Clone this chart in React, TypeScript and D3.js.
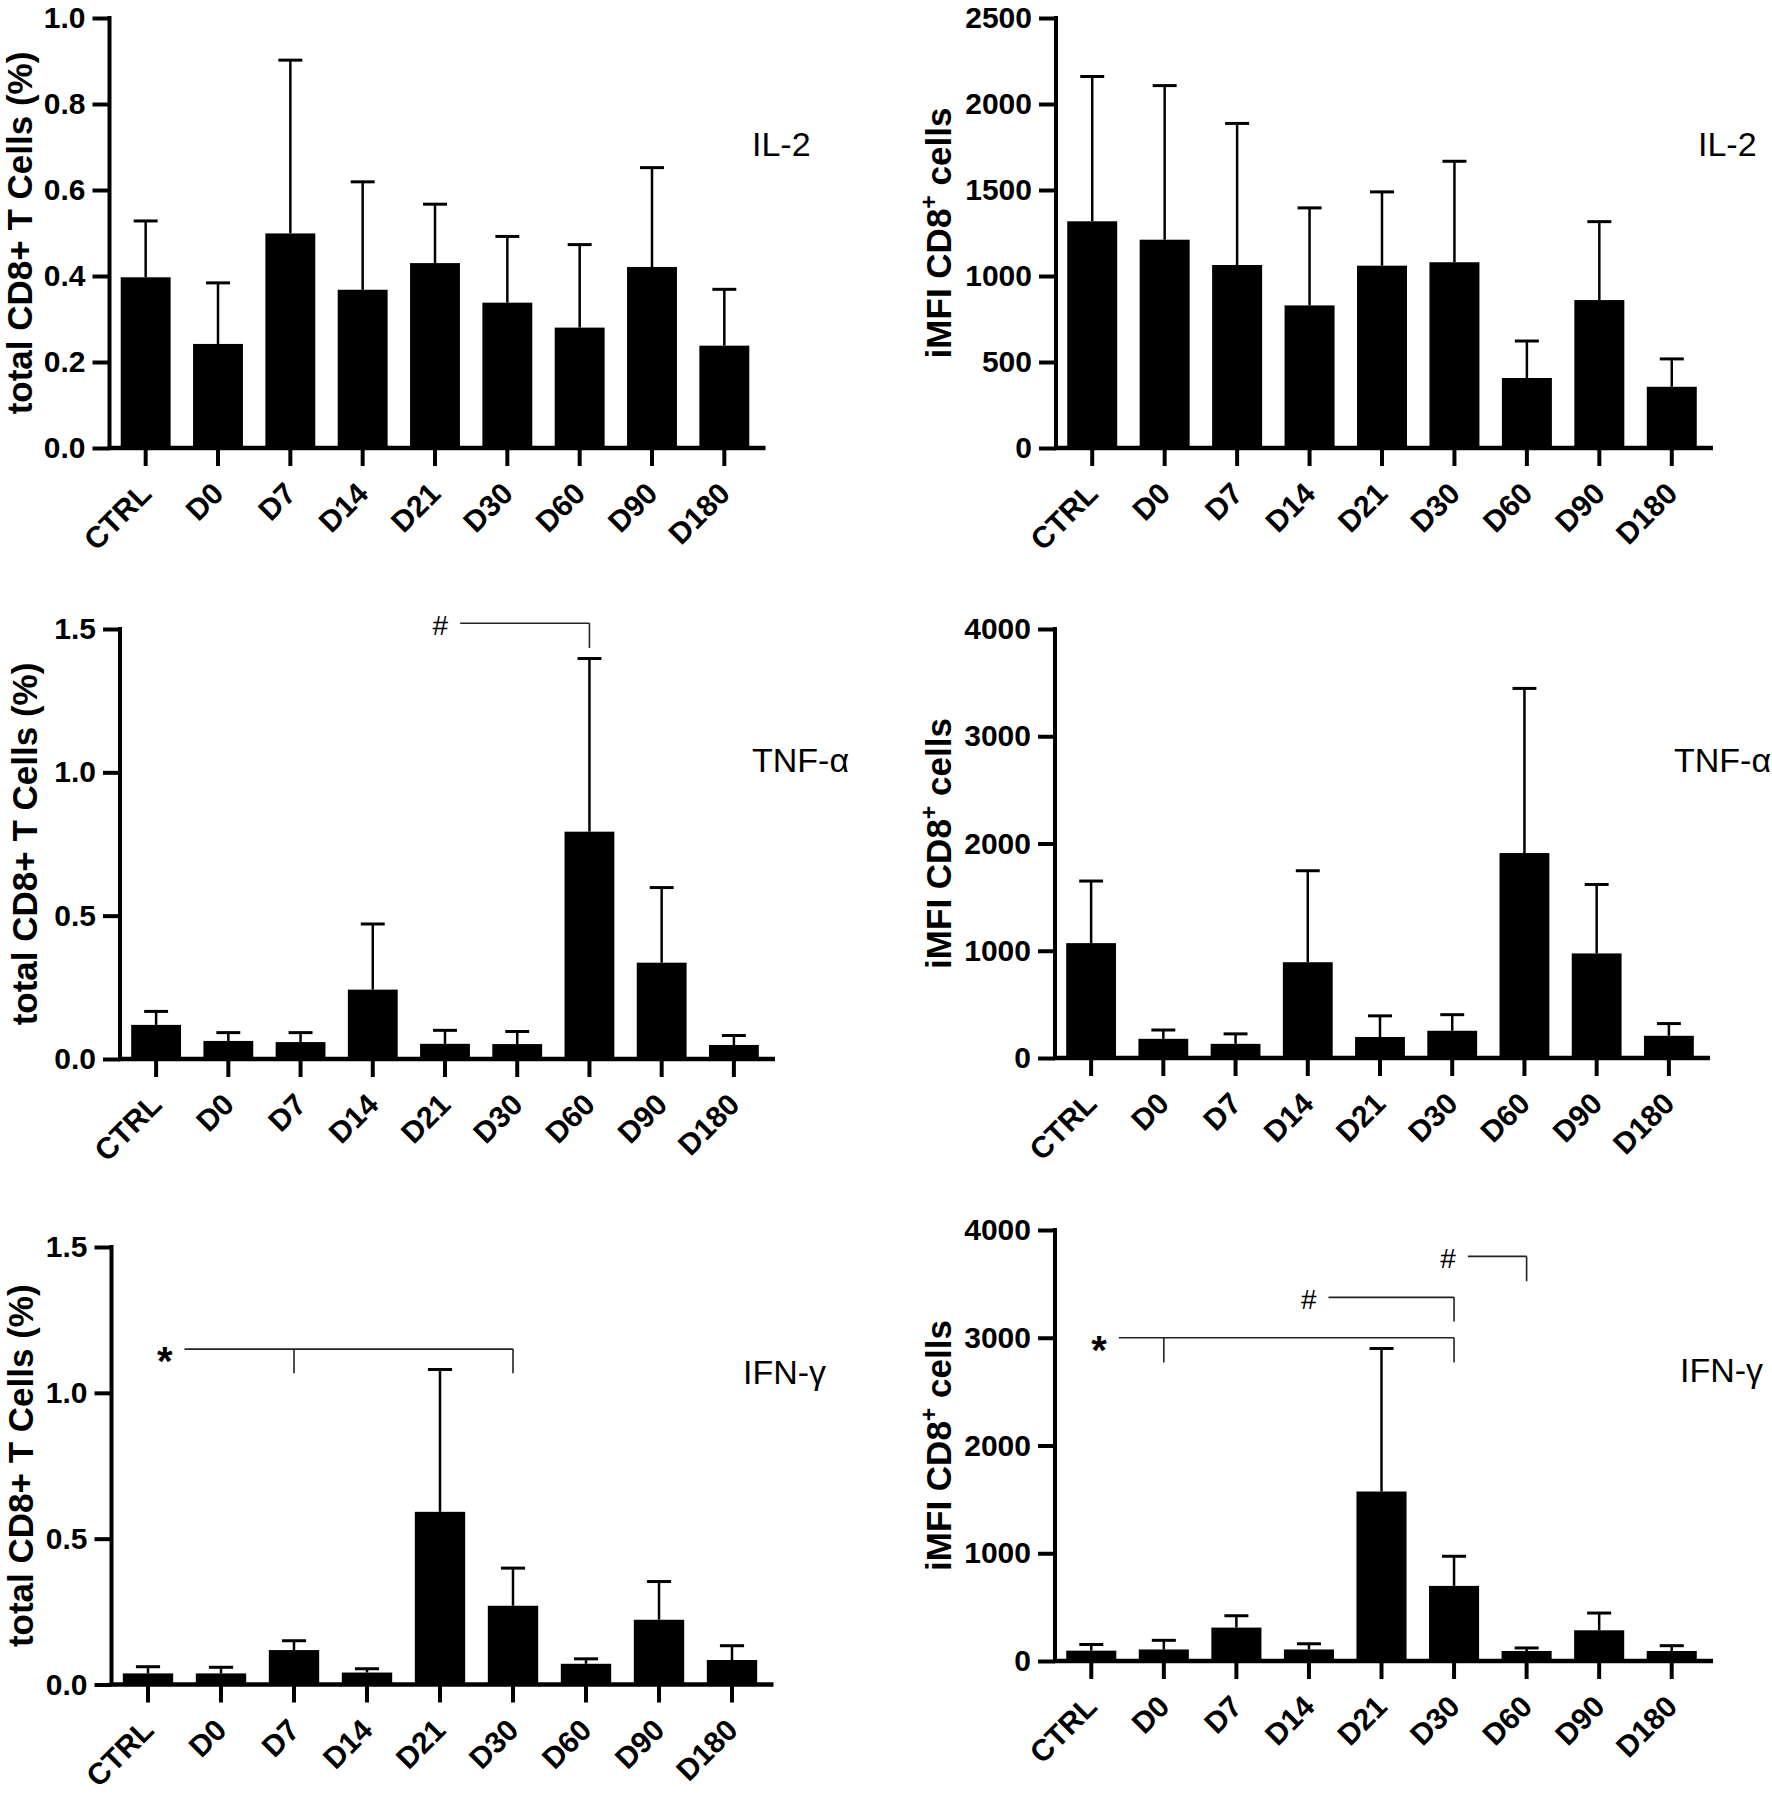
import React, { useEffect, useRef } from 'react';
import * as d3 from 'd3';

const categories = ['CTRL', 'D0', 'D7', 'D14', 'D21', 'D30', 'D60', 'D90', 'D180'];

// IL-2
const il2Pct = [0.397, 0.242, 0.499, 0.368, 0.43, 0.338, 0.28, 0.421, 0.238];
const il2PctSd = [0.131, 0.142, 0.403, 0.251, 0.137, 0.154, 0.193, 0.231, 0.131];
const il2Mfi = [1318, 1211, 1064, 829, 1060, 1080, 407, 860, 356];
const il2MfiSd = [842, 896, 823, 567, 429, 587, 215, 456, 162];

// TNF-alpha
const tnfPct = [0.119, 0.063, 0.059, 0.242, 0.053, 0.052, 0.793, 0.336, 0.049];
const tnfPctSd = [0.047, 0.029, 0.033, 0.229, 0.047, 0.044, 0.604, 0.262, 0.033];
const tnfMfi = [1071, 179, 132, 893, 196, 254, 1911, 975, 207];
const tnfMfiSd = [579, 82, 93, 853, 197, 150, 1535, 643, 114];

// IFN-gamma
const ifnPct = [0.038, 0.038, 0.118, 0.041, 0.592, 0.27, 0.071, 0.222, 0.084];
const ifnPctSd = [0.023, 0.021, 0.032, 0.013, 0.488, 0.129, 0.017, 0.131, 0.049];
const ifnMfi = [96, 107, 310, 107, 1573, 697, 93, 285, 93];
const ifnMfiSd = [57, 85, 110, 53, 1327, 275, 28, 160, 49];

// tick values
const il2PctTicks = [0, 0.2, 0.4, 0.6, 0.8, 1.0];
const il2MfiTicks = [0, 500, 1000, 1500, 2000, 2500];
const pctTicks = [0, 0.5, 1.0, 1.5];
const mfiTicks = [0, 1000, 2000, 3000, 4000];

// significance brackets: start is a position on the category axis (index units)
type Bracket = { label: string; start: number; line: number; drop: number; ends: string[] };
const tnfPctBrackets: Bracket[] = [
  { label: '#', start: 4.21, line: 1.52, drop: 1.434, ends: ['D60'] },
];
const ifnPctBrackets: Bracket[] = [
  { label: '*', start: 0.5, line: 1.15, drop: 1.067, ends: ['D7', 'D30'] },
];
const ifnMfiBrackets: Bracket[] = [
  { label: '*', start: 0.38, line: 3000, drop: 2770, ends: ['D0', 'D30'] },
  { label: '#', start: 3.27, line: 3375, drop: 3150, ends: ['D30'] },
  { label: '#', start: 5.19, line: 3755, drop: 3525, ends: ['D60'] },
];

const FONT = '"Liberation Sans", Arial, Helvetica, sans-serif';

type Panel = {
  values: number[];
  sd: number[];
  ticks: number[];
  fmt: string;
  kind: 'pct' | 'mfi';
  tag: string;
  left: number;
  right: number;
  top: number;
  bottom: number;
  titleX: number;
  tagX: number;
  tagY: number;
  brackets: Bracket[];
};

const panels: Panel[] = [
  { values: il2Pct, sd: il2PctSd, ticks: il2PctTicks, fmt: '.1f', kind: 'pct', tag: 'IL-2',
    left: 109.5, right: 760.5, top: 18, bottom: 448, titleX: 32, tagX: 752, tagY: 156, brackets: [] },
  { values: il2Mfi, sd: il2MfiSd, ticks: il2MfiTicks, fmt: 'd', kind: 'mfi', tag: 'IL-2',
    left: 1056, right: 1708, top: 18, bottom: 448, titleX: 951, tagX: 1698, tagY: 156, brackets: [] },
  { values: tnfPct, sd: tnfPctSd, ticks: pctTicks, fmt: '.1f', kind: 'pct', tag: 'TNF-α',
    left: 120, right: 770, top: 629, bottom: 1059, titleX: 37, tagX: 752, tagY: 772, brackets: tnfPctBrackets },
  { values: tnfMfi, sd: tnfMfiSd, ticks: mfiTicks, fmt: 'd', kind: 'mfi', tag: 'TNF-α',
    left: 1055, right: 1705, top: 629, bottom: 1058, titleX: 951, tagX: 1674, tagY: 772, brackets: [] },
  { values: ifnPct, sd: ifnPctSd, ticks: pctTicks, fmt: '.1f', kind: 'pct', tag: 'IFN-γ',
    left: 111.5, right: 768.5, top: 1247, bottom: 1684.5, titleX: 33, tagX: 743, tagY: 1384, brackets: ifnPctBrackets },
  { values: ifnMfi, sd: ifnMfiSd, ticks: mfiTicks, fmt: 'd', kind: 'mfi', tag: 'IFN-γ',
    left: 1055, right: 1708, top: 1230, bottom: 1661, titleX: 951, tagX: 1680, tagY: 1382, brackets: ifnMfiBrackets },
];

function drawPanel(svg: d3.Selection<SVGSVGElement, unknown, null, undefined>, p: Panel) {
  const g = svg.append('g');
  const x = d3.scaleBand<string>().domain(categories).range([p.left, p.right]).padding(0);
  const y = d3.scaleLinear().domain([0, p.ticks[p.ticks.length - 1]]).range([p.bottom, p.top]);
  const barW = x.bandwidth() * 0.69;
  const capW = barW * 0.48;
  const cx = (c: string) => x(c)! + x.bandwidth() / 2;

  // error bars (upper only)
  p.values.forEach((v, i) => {
    const c = cx(categories[i]);
    g.append('line')
      .attr('x1', c).attr('x2', c)
      .attr('y1', y(v)).attr('y2', y(v + p.sd[i]))
      .attr('stroke', '#000').attr('stroke-width', 2.5);
    g.append('line')
      .attr('x1', c - capW / 2).attr('x2', c + capW / 2)
      .attr('y1', y(v + p.sd[i])).attr('y2', y(v + p.sd[i]))
      .attr('stroke', '#000').attr('stroke-width', 3);
  });

  // bars
  g.selectAll('rect.bar')
    .data(p.values)
    .join('rect')
    .attr('class', 'bar')
    .attr('x', (_, i) => cx(categories[i]) - barW / 2)
    .attr('y', d => y(d))
    .attr('width', barW)
    .attr('height', d => p.bottom - y(d))
    .attr('fill', '#000');

  // y axis
  const yAxis = g.append('g')
    .attr('transform', `translate(${p.left},0)`)
    .call(d3.axisLeft(y).tickValues(p.ticks).tickFormat(d3.format(p.fmt) as any)
      .tickSize(17).tickSizeOuter(0).tickPadding(7));
  yAxis.select('.domain').remove();
  yAxis.selectAll('line').attr('stroke', '#000').attr('stroke-width', 4);
  yAxis.selectAll('text')
    .attr('font-family', FONT).attr('font-size', 30).attr('font-weight', 'bold').attr('fill', '#000');
  g.append('line')
    .attr('x1', p.left).attr('x2', p.left)
    .attr('y1', p.top - 2).attr('y2', p.bottom)
    .attr('stroke', '#000').attr('stroke-width', 4);

  // x axis
  const xAxis = g.append('g')
    .attr('transform', `translate(0,${p.bottom})`)
    .call(d3.axisBottom(x).tickSize(18).tickSizeOuter(0));
  xAxis.select('.domain').remove();
  xAxis.selectAll('line').attr('stroke', '#000').attr('stroke-width', 4);
  xAxis.selectAll('text')
    .attr('y', 0).attr('dy', '0.35em')
    .attr('transform', 'translate(0,40) rotate(-45)')
    .attr('text-anchor', 'end')
    .attr('font-family', FONT).attr('font-size', 30).attr('font-weight', 'bold').attr('fill', '#000');
  g.append('line')
    .attr('x1', p.left - 2).attr('x2', p.right + 5)
    .attr('y1', p.bottom).attr('y2', p.bottom)
    .attr('stroke', '#000').attr('stroke-width', 4.5);

  // y title
  const title = g.append('text')
    .attr('transform', `translate(${p.titleX},${(p.top + p.bottom) / 2}) rotate(-90)`)
    .attr('text-anchor', 'middle')
    .attr('font-family', FONT).attr('font-size', 35).attr('font-weight', 'bold').attr('fill', '#000');
  if (p.kind === 'pct') {
    title.text('total CD8+ T Cells (%)');
  } else {
    title.append('tspan').text('iMFI CD8');
    title.append('tspan').attr('dy', -14).attr('font-size', 23).text('+');
    title.append('tspan').attr('dy', 14).text(' cells');
  }

  // cytokine tag
  g.append('text')
    .attr('x', p.tagX).attr('y', p.tagY)
    .attr('font-family', FONT).attr('font-size', 34).attr('fill', '#000')
    .text(p.tag);

  // brackets
  p.brackets.forEach(b => {
    const ly = y(b.line);
    const dy = y(b.drop);
    const xs = b.ends.map(cx);
    const x0 = p.left + x.step() * (b.start + 0.5);
    const xEnd = d3.max(xs)!;
    g.append('line')
      .attr('x1', x0).attr('x2', xEnd).attr('y1', ly).attr('y2', ly)
      .attr('stroke', '#222').attr('stroke-width', 1.6);
    xs.forEach(xx => {
      g.append('line')
        .attr('x1', xx).attr('x2', xx).attr('y1', ly).attr('y2', dy)
        .attr('stroke', '#222').attr('stroke-width', 1.6);
    });
    const star = b.label === '*';
    g.append('text')
      .attr('x', x0 - 12)
      .attr('y', ly + (star ? 26 : 12))
      .attr('text-anchor', 'end')
      .attr('font-family', FONT)
      .attr('font-size', star ? 40 : 28)
      .attr('font-weight', star ? 'bold' : 'normal')
      .attr('fill', '#000')
      .text(b.label);
  });
}

const App: React.FC = () => {
  const svgRef = useRef<SVGSVGElement | null>(null);

  useEffect(() => {
    if (!svgRef.current) return;
    const svg = d3.select(svgRef.current);
    svg.selectAll('*').remove();
    panels.forEach(p => drawPanel(svg, p));
  }, []);

  return (
    <>
      <style>{'body{margin:0;background:#fff}'}</style>
      <svg ref={svgRef} width={1772} height={1795} style={{ display: 'block', background: '#fff' }} />
    </>
  );
};

export default App;
